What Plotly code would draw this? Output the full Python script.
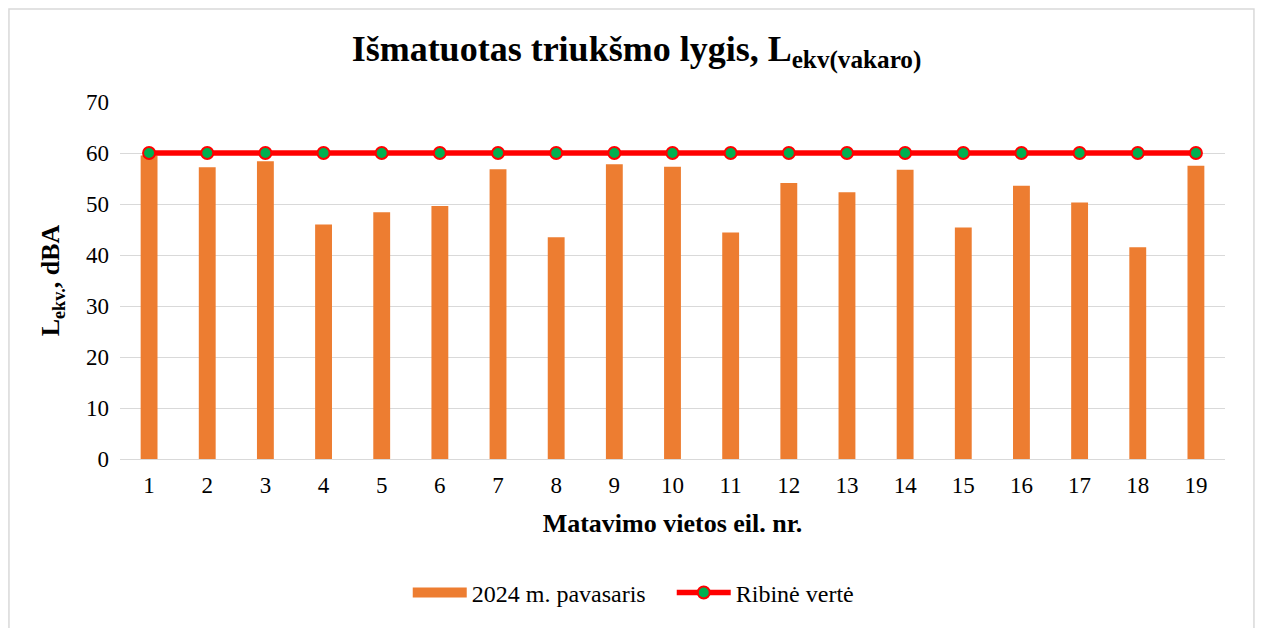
import plotly.graph_objects as go

vietos = [str(i) for i in range(1, 20)]
pavasaris_2024 = [59.5, 57.2, 58.4, 46.0, 48.4, 49.6, 56.8, 43.5, 57.8, 57.3,
                  44.4, 54.1, 52.3, 56.7, 45.4, 53.6, 50.3, 41.5, 57.5]
ribine_verte = [60] * 19
y_ticks = [0, 10, 20, 30, 40, 50, 60, 70]

font = "Liberation Serif, Times New Roman, serif"
orange = "#ED7D31"

fig = go.Figure()
fig.add_trace(go.Bar(
    x=vietos, y=pavasaris_2024, name="2024 m. pavasaris",
    marker=dict(color=orange, line=dict(width=0)), showlegend=False,
))
# legend-only entry so the swatch is a wide bar like in Excel
fig.add_trace(go.Scatter(
    x=[None], y=[None], name="2024 m. pavasaris", mode="lines",
    line=dict(color=orange, width=12),
))
fig.add_trace(go.Scatter(
    x=vietos, y=ribine_verte, name="Ribinė vertė", mode="lines+markers",
    line=dict(color="#FF0000", width=5.5),
    marker=dict(color="#00B050", size=12, line=dict(color="#FF0000", width=2)),
))

# page body has an 8px margin, so the figure is a bit smaller than the window
fig.update_layout(
    width=1257, height=620,
    margin=dict(l=112, r=40, t=94, b=169),
    paper_bgcolor="white", plot_bgcolor="white",
    font=dict(family=font, size=23, color="#000000"),
    bargap=0.71,
    title=dict(
        text="<b>Išmatuotas triukšmo lygis, L<sub>ekv(vakaro)</sub></b>",
        x=0.5, xanchor="center", y=0.935, yanchor="middle",
        font=dict(family=font, size=36, color="#000000"),
    ),
    legend=dict(
        orientation="h", x=0.2604, xanchor="left", y=-0.375, yanchor="middle",
        font=dict(family=font, size=24), itemwidth=54, entrywidth=195,
    ),
    xaxis=dict(
        type="category", range=[-0.5, 18.5], showgrid=False, ticks="",
        showline=False, ticklabelstandoff=10,
        title=dict(text="<b>Matavimo vietos eil. nr.</b>", standoff=16,
                   font=dict(family=font, size=26)),
    ),
    yaxis=dict(
        range=[0, 70], tickvals=y_ticks, showgrid=True, gridcolor="#D9D9D9",
        gridwidth=1, zeroline=True, zerolinecolor="#D9D9D9", zerolinewidth=1,
        ticks="", ticklabelstandoff=10,
        title=dict(text="<b>L<sub>ekv.</sub>, dBA</b>", standoff=18,
                   font=dict(family=font, size=26)),
    ),
    shapes=[dict(
        type="rect", xref="paper", yref="paper",
        x0=-0.1005, x1=1.0262, y0=-0.5, y1=1.2605,
        line=dict(color="#D9D9D9", width=1.5), layer="below",
    )],
)

fig.write_html("out.html")
